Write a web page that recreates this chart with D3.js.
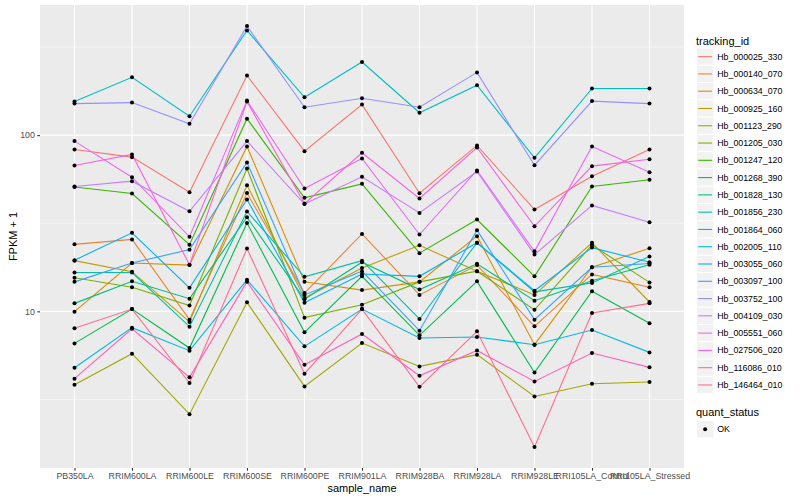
<!DOCTYPE html>
<html>
<head>
<meta charset="utf-8">
<script src="https://cdn.jsdelivr.net/npm/d3@7"></script>
<style>
  body { margin: 0; background: #fff; }
  text { font-family: "Liberation Sans", Arial, sans-serif; }
</style>
</head>
<body>
<div id="chart"></div>
<script>
// sample order on the x axis
const samples = ["PB350LA", "RRIM600LA", "RRIM600LE", "RRIM600SE", "RRIM600PE", "RRIM901LA",
  "RRIM928BA", "RRIM928LA", "RRIM928LE", "RRI105LA_Control", "RRI105LA_Stressed"];

const trackingIds = ["Hb_000025_330", "Hb_000140_070", "Hb_000634_070", "Hb_000925_160",
  "Hb_001123_290", "Hb_001205_030", "Hb_001247_120", "Hb_001268_390", "Hb_001828_130",
  "Hb_001856_230", "Hb_001864_060", "Hb_002005_110", "Hb_003055_060", "Hb_003097_100",
  "Hb_003752_100", "Hb_004109_030", "Hb_005551_060", "Hb_027506_020", "Hb_116086_010",
  "Hb_146464_010"];

// FPKM + 1, one row per tracking id (same order as trackingIds)
const fpkm = [
  [82.9, 75.0, 47.4, 218, 81.1, 149, 46.8, 87.4, 37.8, 58.5, 82.9],
  [24.0, 25.6, 8.97, 46.9, 12.7, 27.5, 12.4, 18.3, 8.22, 16.2, 13.7],
  [9.96, 18.8, 18.3, 86.3, 14.7, 13.2, 14.7, 26.7, 6.47, 17.8, 22.8],
  [19.4, 16.8, 8.71, 52.0, 11.9, 17.6, 23.7, 16.9, 12.4, 24.5, 11.3],
  [3.83, 5.75, 2.61, 11.25, 3.75, 6.61, 4.87, 5.68, 3.29, 3.88, 3.97],
  [15.5, 13.7, 10.8, 64.7, 9.21, 10.9, 14.7, 16.9, 10.2, 23.8, 14.6],
  [50.8, 46.6, 23.9, 124, 44.1, 52.9, 21.4, 33.2, 15.8, 51.1, 55.8],
  [6.58, 10.3, 6.19, 31.7, 7.60, 15.8, 7.31, 14.8, 4.50, 13.0, 8.55],
  [11.1, 14.8, 11.8, 34.2, 11.7, 19.0, 13.3, 18.6, 11.5, 14.9, 18.4],
  [16.6, 16.6, 8.19, 36.9, 15.7, 19.4, 9.05, 24.5, 12.9, 14.5, 20.5],
  [155, 213, 128, 393, 164, 260, 134, 192, 74.4, 184, 184],
  [4.79, 8.08, 5.98, 15.1, 6.33, 10.3, 7.06, 7.15, 6.47, 7.84, 5.85],
  [19.5, 27.9, 13.6, 43.1, 11.2, 16.3, 15.8, 24.5, 13.1, 23.0, 19.0],
  [14.7, 18.8, 22.4, 70.0, 12.4, 16.9, 7.77, 28.9, 8.97, 17.8, 18.7],
  [151, 153, 116, 416, 144, 162, 144, 227, 67.5, 156, 151],
  [51.1, 54.8, 37.0, 92.5, 40.6, 58.0, 36.2, 62.2, 21.0, 39.9, 32.0],
  [92.5, 57.7, 26.5, 157, 49.8, 73.7, 27.3, 63.0, 21.9, 86.3, 61.6],
  [67.3, 77.7, 18.4, 155, 40.9, 79.4, 43.7, 85.1, 30.4, 66.7, 73.0],
  [4.15, 7.97, 4.22, 14.7, 4.98, 7.44, 4.31, 6.00, 4.00, 5.80, 4.81],
  [8.01, 10.3, 3.92, 22.7, 4.43, 10.3, 3.73, 7.70, 1.70, 9.79, 11.1]
];

const yTicks = [10, 100];
const yMinor = [Math.sqrt(10), Math.sqrt(1000), Math.sqrt(100000)];
const statusLevels = ["OK"];

// ggplot2 default hue palette for 20 levels
const palette = ["#F8766D", "#EA8331", "#D89000", "#C09B00", "#A3A500", "#7CAE00", "#39B600",
  "#00BB4E", "#00BF7D", "#00C1A3", "#00BFC4", "#00BAE0", "#00B0F6", "#35A2FF", "#9590FF",
  "#C77CFF", "#E76BF3", "#FA62DB", "#FF62BC", "#FF6C91"];

const width = 800, height = 500;
const panel = {left: 40, right: 684, top: 5, bottom: 468};

const svg = d3.select("#chart").append("svg")
  .attr("width", width)
  .attr("height", height);

const x = d3.scalePoint()
  .domain(samples)
  .range([panel.left, panel.right])
  .padding(0.6);

// log scale, expanded 5% each side like ggplot
const logExt = d3.extent(fpkm.flat()).map(Math.log10);
const pad = (logExt[1] - logExt[0]) * 0.05;
const y = d3.scaleLog()
  .domain([Math.pow(10, logExt[0] - pad), Math.pow(10, logExt[1] + pad)])
  .range([panel.bottom, panel.top]);

const color = d3.scaleOrdinal().domain(trackingIds).range(palette);

// panel background
svg.append("rect")
  .attr("x", panel.left).attr("y", panel.top)
  .attr("width", panel.right - panel.left)
  .attr("height", panel.bottom - panel.top)
  .attr("fill", "#EBEBEB");

const grid = svg.append("g");
grid.selectAll(".minor")
  .data(yMinor.filter(v => v > y.domain()[0] && v < y.domain()[1]))
  .enter().append("line")
  .attr("x1", panel.left).attr("x2", panel.right)
  .attr("y1", d => y(d)).attr("y2", d => y(d))
  .attr("stroke", "#fff").attr("stroke-width", 0.55);
grid.selectAll(".major")
  .data(yTicks)
  .enter().append("line")
  .attr("x1", panel.left).attr("x2", panel.right)
  .attr("y1", d => y(d)).attr("y2", d => y(d))
  .attr("stroke", "#fff").attr("stroke-width", 1.1);
grid.selectAll(".xgrid")
  .data(samples)
  .enter().append("line")
  .attr("x1", d => x(d)).attr("x2", d => x(d))
  .attr("y1", panel.top).attr("y2", panel.bottom)
  .attr("stroke", "#fff").attr("stroke-width", 1.1);

// lines
const line = d3.line()
  .x((d, i) => x(samples[i]))
  .y(d => y(d));

svg.append("g").selectAll("path")
  .data(fpkm)
  .enter().append("path")
  .attr("d", d => line(d))
  .attr("fill", "none")
  .attr("stroke", (d, i) => color(trackingIds[i]))
  .attr("stroke-width", 1.1);

// points
const pts = [];
fpkm.forEach((row, i) => row.forEach((v, j) => pts.push({s: samples[j], v: v})));
svg.append("g").selectAll("circle")
  .data(pts)
  .enter().append("circle")
  .attr("cx", d => x(d.s))
  .attr("cy", d => y(d.v))
  .attr("r", 2)
  .attr("fill", "#000");

// axes
const xAxis = svg.append("g")
  .attr("transform", "translate(0," + panel.bottom + ")")
  .call(d3.axisBottom(x).tickSize(2.7).tickPadding(2.5));
const yAxis = svg.append("g")
  .attr("transform", "translate(" + panel.left + ",0)")
  .call(d3.axisLeft(y).tickValues(yTicks).tickFormat(d3.format("d")).tickSize(2.7).tickPadding(2.5));

[xAxis, yAxis].forEach(ax => {
  ax.select(".domain").remove();
  ax.selectAll(".tick line").attr("stroke", "#333").attr("stroke-width", 1.1);
  ax.selectAll(".tick text")
    .attr("fill", "#4D4D4D")
    .style("font-size", "8.8px");
});

svg.append("text")
  .attr("x", (panel.left + panel.right) / 2)
  .attr("y", 492)
  .attr("text-anchor", "middle")
  .style("font-size", "11px")
  .text("sample_name");

svg.append("text")
  .attr("transform", "rotate(-90)")
  .attr("x", -(panel.top + panel.bottom) / 2)
  .attr("y", 17)
  .attr("text-anchor", "middle")
  .style("font-size", "11px")
  .text("FPKM + 1");

// legend: tracking_id
const keySize = 17.28;
const legX = 696.5;
const legend = svg.append("g");
legend.append("text")
  .attr("x", legX - 0.5).attr("y", 44.5)
  .style("font-size", "11px")
  .text("tracking_id");

const keys = legend.selectAll(".key")
  .data(trackingIds)
  .enter().append("g")
  .attr("transform", (d, i) => "translate(" + legX + "," + (48 + i * keySize) + ")");
keys.append("rect")
  .attr("width", keySize).attr("height", keySize)
  .attr("fill", "#F2F2F2").attr("stroke", "#fff").attr("stroke-width", 1);
keys.append("line")
  .attr("x1", 1.7).attr("x2", keySize - 1.7)
  .attr("y1", keySize / 2).attr("y2", keySize / 2)
  .attr("stroke", d => color(d)).attr("stroke-width", 1.1);
keys.append("text")
  .attr("x", keySize + 3.5).attr("y", keySize / 2 + 3.1)
  .style("font-size", "8.8px")
  .text(d => d);

// legend: quant_status
const statusTop = 420.5;
legend.append("text")
  .attr("x", legX - 0.5).attr("y", statusTop - 4.5)
  .style("font-size", "11px")
  .text("quant_status");
const skeys = legend.selectAll(".skey")
  .data(statusLevels)
  .enter().append("g")
  .attr("transform", (d, i) => "translate(" + legX + "," + (statusTop + i * keySize) + ")");
skeys.append("rect")
  .attr("width", keySize).attr("height", keySize)
  .attr("fill", "#F2F2F2").attr("stroke", "#fff").attr("stroke-width", 1);
skeys.append("circle")
  .attr("cx", keySize / 2).attr("cy", keySize / 2).attr("r", 2)
  .attr("fill", "#000");
skeys.append("text")
  .attr("x", keySize + 3.5).attr("y", keySize / 2 + 3.1)
  .style("font-size", "8.8px")
  .text(d => d);
</script>
</body>
</html>
